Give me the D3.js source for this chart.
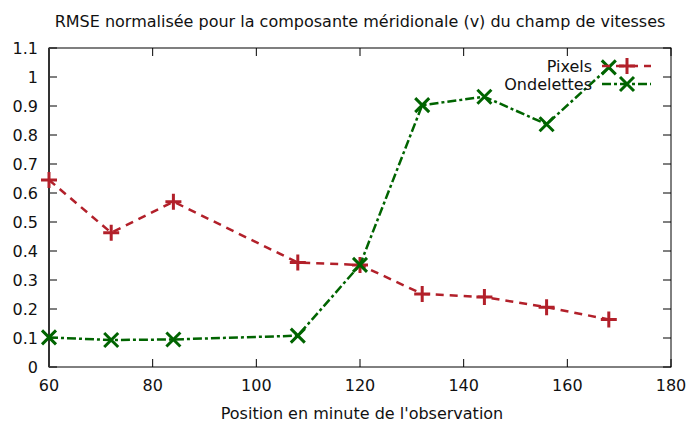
<!DOCTYPE html>
<html><head><meta charset="utf-8">
<script src="https://cdn.jsdelivr.net/npm/d3@7"></script>
<style>body{margin:0;background:#fff}svg{display:block}text{font-family:"DejaVu Sans",sans-serif;fill:#111}</style>
</head><body>
<svg id="c" width="690" height="423"></svg>
<script>
const positions = [60, 72, 84, 108, 120, 132, 144, 156, 168];
const pixels = [0.645, 0.463, 0.570, 0.360, 0.352, 0.252, 0.241, 0.206, 0.164];
const ondelettes = [0.102, 0.093, 0.095, 0.108, 0.352, 0.903, 0.932, 0.837, 1.033];
const xTicks = [60, 80, 100, 120, 140, 160, 180];
const yTicks = [0, 0.1, 0.2, 0.3, 0.4, 0.5, 0.6, 0.7, 0.8, 0.9, 1, 1.1];
const title = "RMSE normalisée pour la composante méridionale (v) du champ de vitesses";
const xLabel = "Position en minute de l'observation";
const seriesNames = ["Pixels", "Ondelettes"];

const svg = d3.select("#c");
const L = 49, R = 671, T = 48, B = 367;
const x = d3.scaleLinear().domain([60, 180]).range([L, R]);
const y = d3.scaleLinear().domain([0, 1.1]).range([B, T]);

const tl = 8;
const g = svg.append("g");
xTicks.forEach(v => {
  g.append("line").attr("x1", x(v)).attr("x2", x(v)).attr("y1", B).attr("y2", B - tl).attr("stroke", "#000");
  g.append("line").attr("x1", x(v)).attr("x2", x(v)).attr("y1", T).attr("y2", T + tl).attr("stroke", "#000");
  g.append("text").attr("x", x(v)).attr("y", 385).attr("text-anchor", "middle").attr("dominant-baseline", "central").attr("font-size", 16).text(v);
});
yTicks.forEach(v => {
  g.append("line").attr("x1", L).attr("x2", L + tl).attr("y1", y(v)).attr("y2", y(v)).attr("stroke", "#000");
  g.append("line").attr("x1", R).attr("x2", R - tl).attr("y1", y(v)).attr("y2", y(v)).attr("stroke", "#000");
  g.append("text").attr("x", 38).attr("y", y(v)).attr("text-anchor", "end").attr("dominant-baseline", "central").attr("font-size", 16).text(d3.format("")(v));
});
svg.append("rect").attr("x", L).attr("y", T).attr("width", R - L).attr("height", B - T)
  .attr("fill", "none").attr("stroke", "#000").attr("stroke-width", 1);
svg.append("line").attr("x1", L).attr("x2", L).attr("y1", T).attr("y2", B).attr("stroke", "#333").attr("stroke-width", 2);

svg.append("text").attr("x", 360).attr("y", 21).attr("text-anchor", "middle").attr("dominant-baseline", "central").attr("font-size", 16).text(title);
svg.append("text").attr("x", 362).attr("y", 413).attr("text-anchor", "middle").attr("dominant-baseline", "central").attr("font-size", 16).text(xLabel);

const red = "#b2202a", green = "#006400";
const line = d3.line().x(d => x(d[0])).y(d => y(d[1]));
const dPix = positions.map((p, i) => [p, pixels[i]]);
const dOnd = positions.map((p, i) => [p, ondelettes[i]]);

function plus(sel, cx, cy, col) {
  const s = 8;
  sel.append("path").attr("d", `M${cx - s},${cy}H${cx + s}M${cx},${cy - s}V${cy + s}`).attr("stroke", col).attr("stroke-width", 3).attr("fill", "none");
}
function cross(sel, cx, cy, col) {
  const s = 7;
  sel.append("path").attr("d", `M${cx - s},${cy - s}L${cx + s},${cy + s}M${cx - s},${cy + s}L${cx + s},${cy - s}`).attr("stroke", col).attr("stroke-width", 3).attr("fill", "none");
}

const p1 = svg.append("g");
p1.append("path").datum(dPix).attr("d", line).attr("fill", "none").attr("stroke", red).attr("stroke-width", 2.5).attr("stroke-dasharray", "8,6");
dPix.forEach(d => plus(p1, x(d[0]), y(d[1]), red));

const p2 = svg.append("g");
p2.append("path").datum(dOnd).attr("d", line).attr("fill", "none").attr("stroke", green).attr("stroke-width", 2.5).attr("stroke-dasharray", "9,3,3,3");
dOnd.forEach(d => cross(p2, x(d[0]), y(d[1]), green));

const leg = [[seriesNames[0], red, "8,6", plus, 66], [seriesNames[1], green, "9,3,3,3", cross, 84]];
leg.forEach(([name, col, dash, mk, ly]) => {
  svg.append("text").attr("x", 592).attr("y", ly).attr("text-anchor", "end").attr("dominant-baseline", "central").attr("font-size", 16).text(name);
  svg.append("line").attr("x1", 602).attr("x2", 651).attr("y1", ly).attr("y2", ly).attr("stroke", col).attr("stroke-width", 2.5).attr("stroke-dasharray", dash);
  mk(svg, 627, ly, col);
});
</script>
</body></html>
